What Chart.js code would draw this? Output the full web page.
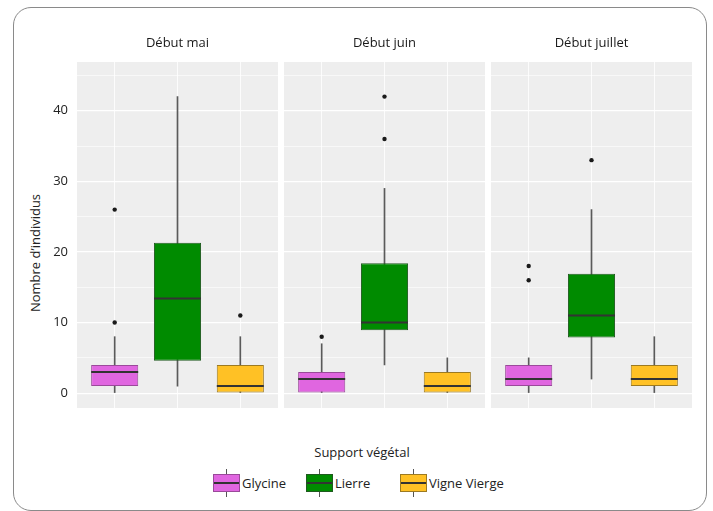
<!DOCTYPE html>
<html lang="fr">
<head>
<meta charset="utf-8">
<title>Nombre d'individus par support végétal</title>
<script src="https://cdn.jsdelivr.net/npm/chart.js@4.4.1/dist/chart.umd.min.js"></script>
<style>
  html, body { margin: 0; padding: 0; background: #fff; }
  body {
    width: 713px; height: 511px; position: relative; overflow: hidden;
    font-family: 'Open Sans', sans-serif; font-size: 13px; color: #222;
  }
  .frame {
    position: absolute; left: 13px; top: 7px; width: 694px; height: 504px;
    border: 1px solid #8a8a8a; border-radius: 18px; box-sizing: border-box;
  }
  .panel { position: absolute; top: 25px; height: 383px; }
  #p1 { left: 13px; width: 265px; }
  #p2 { left: 284px; width: 201px; }
  #p3 { left: 491px; width: 201px; }
  .y-title {
    position: absolute; left: 35px; top: 253px; white-space: nowrap;
    transform: translate(-50%, -50%) rotate(-90deg);
  }
  .legend-title {
    position: absolute; left: 262px; top: 443px; width: 200px;
    text-align: center; line-height: 18px;
  }
  .key { position: absolute; top: 469px; height: 28px; }
  .key .whisker {
    position: absolute; left: 13px; top: 0; width: 1px; height: 28px; background: #555;
  }
  .key .box {
    position: absolute; left: 0; top: 5px; width: 27px; height: 18px;
    box-sizing: border-box; border: 1px solid;
  }
  .key .box::after {
    content: ''; position: absolute; left: 0; right: 0; top: 7px; height: 2px; background: #333;
  }
  .key .label { position: absolute; left: 29px; top: 5px; line-height: 18px; white-space: nowrap; }
</style>
</head>
<body>
<div class="frame"></div>
<div class="y-title">Nombre d’individus</div>
<div class="panel" id="p1"><canvas id="c1"></canvas></div>
<div class="panel" id="p2"><canvas id="c2"></canvas></div>
<div class="panel" id="p3"><canvas id="c3"></canvas></div>
<div class="legend-title">Support végétal</div>
<div id="legend"></div>

<script>
// ── DATA ──────────────────────────────────────────────────────────────────
const periods  = ['Début mai', 'Début juin', 'Début juillet'];
const supports = ['Glycine', 'Lierre', 'Vigne Vierge'];

// one row per support: [whisker low, Q1, median, Q3, whisker high]
const maiStats     = [[0, 1, 3, 4, 8], [1, 4.6, 13.4, 21.3, 42], [0, 0, 1, 4, 8]];
const juinStats    = [[0, 0, 2, 3, 7], [4, 8.9, 10, 18.4, 29],   [0, 0, 1, 3, 5]];
const juilletStats = [[0, 1, 2, 4, 5], [2, 7.9, 11, 16.9, 26],   [0, 1, 2, 4, 8]];

const maiOutliers     = [[10, 26], [], [11]];
const juinOutliers    = [[8], [36, 42], []];
const juilletOutliers = [[16, 18], [33], []];

const majorTicks = [0, 10, 20, 30, 40];
const minorTicks = [5, 15, 25, 35, 45];

// ── STYLE ─────────────────────────────────────────────────────────────────
const FONT = "'Open Sans', sans-serif";
const fillColors = ['#e066e0', '#008b00', '#ffc125'];
const edgeColors = ['#9a4a9a', '#1f5a1f', '#9c7a22'];
const Y_MIN = -2.1, Y_MAX = 46.9;

const panelBackground = {
  id: 'panelBackground',
  beforeDraw(chart) {
    const { ctx, chartArea: a } = chart;
    ctx.save();
    ctx.fillStyle = '#eeeeee';
    ctx.fillRect(a.left, a.top, a.width, a.height);
    ctx.restore();
  }
};

function makePanel(canvasId, title, stats, outliers, showY) {
  const ctx = document.getElementById(canvasId).getContext('2d');
  return new Chart(ctx, {
    type: 'bar',
    data: {
      datasets: [
        {
          label: 'moustaches', order: 4, grouped: false,
          data: stats.map((s, i) => ({ x: i + 1, y: [s[0], s[4]] })),
          backgroundColor: '#5a5a5a', barThickness: 1
        },
        {
          label: 'boîtes', order: 3, grouped: false,
          data: stats.map((s, i) => ({ x: i + 1, y: [s[1], s[3]] })),
          backgroundColor: fillColors, borderColor: edgeColors,
          borderWidth: 1, borderSkipped: false,
          barPercentage: 0.75, categoryPercentage: 1
        },
        {
          type: 'scatter', label: 'médianes', order: 2,
          data: stats.map((s, i) => ({ x: i + 1, y: s[2] })),
          pointStyle: 'line', pointRadius: 23.5,
          pointBorderColor: '#333', pointBorderWidth: 2
        },
        {
          type: 'scatter', label: 'valeurs extrêmes', order: 1,
          data: outliers.flatMap((vals, i) => vals.map(v => ({ x: i + 1, y: v }))),
          pointRadius: 2.2, pointBackgroundColor: '#1a1a1a', pointBorderWidth: 0
        }
      ]
    },
    options: {
      responsive: true,
      maintainAspectRatio: false,
      animation: false,
      events: [],
      layout: { padding: 0, autoPadding: false },
      plugins: {
        legend: { display: false },
        tooltip: { enabled: false },
        title: {
          display: true, text: title, fullSize: false, color: '#1a1a1a',
          font: { family: FONT, size: 13, weight: 'normal' },
          padding: { top: 10, bottom: 11.4 }
        }
      },
      scales: {
        x: {
          type: 'linear', min: 0.4, max: 3.6, offset: false,
          grid: { color: '#ffffff', lineWidth: 0.8, drawTicks: false, offset: false },
          border: { display: false },
          ticks: { display: false },
          afterBuildTicks: s => { s.ticks = supports.map((_, i) => ({ value: i + 1 })); },
          afterFit: s => { s.height = 0; s.paddingLeft = 0; s.paddingRight = 0; }
        },
        y: {
          type: 'linear', min: Y_MIN, max: Y_MAX,
          grid: {
            color: '#ffffff', drawTicks: false,
            lineWidth: c => majorTicks.includes(c.tick.value) ? 1.2 : 0.6
          },
          border: { display: false },
          ticks: {
            display: showY, padding: 9, color: '#222',
            font: { family: FONT, size: 13 },
            callback: v => majorTicks.includes(v) ? String(v) : ''
          },
          afterBuildTicks: s => {
            s.ticks = majorTicks.concat(minorTicks).sort((a, b) => a - b).map(v => ({ value: v }));
          },
          afterFit: s => { s.width = showY ? 64 : 0; s.paddingTop = 0; s.paddingBottom = 0; }
        }
      }
    },
    plugins: [panelBackground]
  });
}

makePanel('c1', periods[0], maiStats, maiOutliers, true);
makePanel('c2', periods[1], juinStats, juinOutliers, false);
makePanel('c3', periods[2], juilletStats, juilletOutliers, false);

// ── LEGEND ────────────────────────────────────────────────────────────────
const legendLefts = [213, 306, 400];
const legend = document.getElementById('legend');
supports.forEach((name, i) => {
  const key = document.createElement('div');
  key.className = 'key';
  key.style.left = legendLefts[i] + 'px';
  key.innerHTML = `
    <span class="whisker"></span>
    <span class="box" style="background:${fillColors[i]};border-color:${edgeColors[i]}"></span>
    <span class="label">${name}</span>`;
  legend.appendChild(key);
});
</script>
</body>
</html>
